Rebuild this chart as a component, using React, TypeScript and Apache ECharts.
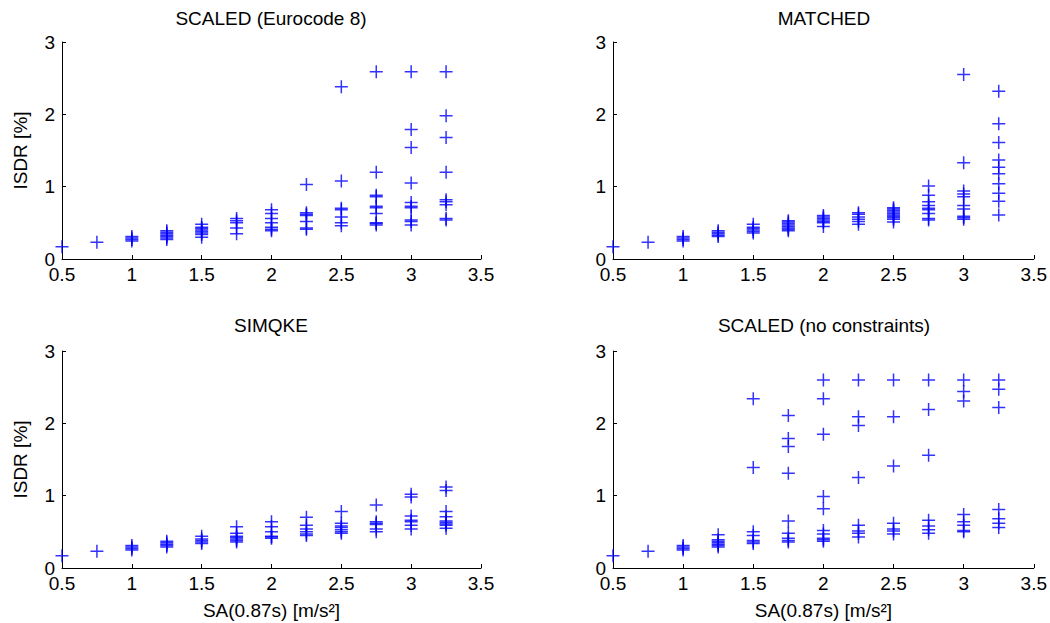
import React, { useEffect, useRef } from "react";
import * as echarts from "echarts";

const xs = [0.5, 0.75, 1, 1.25, 1.5, 1.75, 2, 2.25, 2.5, 2.75, 3, 3.25];

const scaledEC8: number[][] = [
  [0.17],
  [0.23],
  [0.25, 0.27, 0.29, 0.31],
  [0.27, 0.29, 0.31, 0.33, 0.35, 0.37, 0.39],
  [0.3, 0.34, 0.36, 0.38, 0.4, 0.42, 0.44, 0.48],
  [0.35, 0.43, 0.5, 0.53, 0.56],
  [0.39, 0.41, 0.44, 0.5, 0.56, 0.63, 0.68],
  [0.41, 0.43, 0.52, 0.6, 0.62, 0.64, 1.03],
  [0.46, 0.5, 0.58, 0.68, 0.7, 1.08, 2.38],
  [0.47, 0.49, 0.5, 0.63, 0.71, 0.73, 0.86, 0.88, 1.2, 2.59],
  [0.47, 0.52, 0.54, 0.71, 0.73, 0.78, 1.05, 1.54, 1.79, 2.59],
  [0.54, 0.56, 0.75, 0.79, 0.82, 1.2, 1.68, 1.98, 2.59],
];

const matched: number[][] = [
  [0.17],
  [0.23],
  [0.25, 0.27, 0.29, 0.31],
  [0.31, 0.33, 0.35, 0.37, 0.39],
  [0.36, 0.38, 0.4, 0.42, 0.44, 0.48],
  [0.39, 0.41, 0.43, 0.45, 0.47, 0.49, 0.51, 0.53],
  [0.45, 0.5, 0.52, 0.54, 0.56, 0.58, 0.6],
  [0.48, 0.52, 0.55, 0.58, 0.62, 0.64],
  [0.51, 0.55, 0.57, 0.59, 0.61, 0.63, 0.65, 0.67, 0.69, 0.71],
  [0.54, 0.56, 0.63, 0.68, 0.7, 0.74, 0.79, 0.88, 1.01],
  [0.55, 0.57, 0.59, 0.69, 0.74, 0.86, 0.9, 0.94, 1.33, 2.55],
  [0.61, 0.8, 0.91, 1.04, 1.18, 1.27, 1.37, 1.61, 1.87, 2.32],
];

const simqke: number[][] = [
  [0.17],
  [0.23],
  [0.25, 0.27, 0.29, 0.31],
  [0.29, 0.31, 0.33, 0.35, 0.37],
  [0.34, 0.36, 0.38, 0.4, 0.44],
  [0.36, 0.38, 0.4, 0.42, 0.44, 0.48, 0.57],
  [0.41, 0.43, 0.44, 0.5, 0.57, 0.64],
  [0.45, 0.47, 0.5, 0.54, 0.59, 0.7],
  [0.48, 0.5, 0.53, 0.56, 0.58, 0.62, 0.78],
  [0.5, 0.54, 0.6, 0.62, 0.64, 0.87],
  [0.54, 0.59, 0.64, 0.66, 0.72, 0.98, 1.02],
  [0.55, 0.59, 0.61, 0.63, 0.65, 0.71, 0.78, 1.07, 1.12],
];

const noConstraints: number[][] = [
  [0.17],
  [0.23],
  [0.25, 0.27, 0.29, 0.31],
  [0.29, 0.31, 0.33, 0.35, 0.37, 0.39, 0.46],
  [0.34, 0.36, 0.38, 0.45, 0.5, 1.39, 2.34],
  [0.36, 0.38, 0.41, 0.48, 0.65, 1.31, 1.68, 1.79, 2.11],
  [0.37, 0.39, 0.41, 0.47, 0.52, 0.82, 0.99, 1.85, 2.34, 2.6],
  [0.43, 0.48, 0.51, 0.59, 1.25, 1.97, 2.09, 2.6],
  [0.47, 0.51, 0.54, 0.62, 1.41, 2.09, 2.6],
  [0.48, 0.53, 0.58, 0.66, 1.56, 2.19, 2.6],
  [0.5, 0.52, 0.59, 0.64, 0.74, 2.31, 2.44, 2.6],
  [0.56, 0.62, 0.68, 0.81, 2.22, 2.47, 2.6],
];

const panelTitles = ["SCALED (Eurocode 8)", "MATCHED", "SIMQKE", "SCALED (no constraints)"];
const panelData = [scaledEC8, matched, simqke, noConstraints];
const xTicks = { min: 0.5, max: 3.5, interval: 0.5 };
const yTicks = { min: 0, max: 3, interval: 1 };
const xLabel = "SA(0.87s) [m/s²]";
const yLabel = "ISDR [%]";

const FONT = "'Liberation Sans', Arial, Helvetica, sans-serif";
const FS = 19;

export default function App() {
  const ref = useRef<HTMLDivElement>(null);
  useEffect(() => {
    if (!ref.current) return;
    const chart = echarts.init(ref.current, undefined, { renderer: "svg" });
    const grids = [
      { left: 62, top: 42, width: 419, height: 217 },
      { left: 613, top: 42, width: 422, height: 217 },
      { left: 62, top: 351, width: 419, height: 217 },
      { left: 613, top: 351, width: 422, height: 217 },
    ];
    const axisCommon = {
      axisLine: { show: true, onZero: false, lineStyle: { color: "#000", width: 1 } },
      axisTick: { show: true, inside: true, length: 4, lineStyle: { color: "#000" } },
      splitLine: { show: false },
      nameTextStyle: { color: "#000", fontFamily: FONT, fontSize: FS },
    };
    const xAxes = grids.map((_, i) => ({
      type: "value",
      gridIndex: i,
      ...xTicks,
      ...axisCommon,
      axisLabel: {
        color: "#000",
        fontFamily: FONT,
        fontSize: FS,
        margin: 6,
        formatter: (v: number) => String(v),
      },
      name: i >= 2 ? xLabel : "",
      nameLocation: "middle",
      nameGap: 33,
    }));
    const yAxes = grids.map((_, i) => ({
      type: "value",
      gridIndex: i,
      ...yTicks,
      ...axisCommon,
      axisLabel: { color: "#000", fontFamily: FONT, fontSize: FS, margin: 7 },
      name: i % 2 === 0 ? yLabel : "",
      nameLocation: "middle",
      nameGap: 32,
    }));
    const series = panelData.map((vals, i) => ({
      type: "scatter",
      xAxisIndex: i,
      yAxisIndex: i,
      symbol: "path://M0,7L14,7M7,0L7,14",
      symbolSize: 13,
      itemStyle: { color: "rgba(0,0,0,0)", borderColor: "#0000ff", borderWidth: 1.5 },
      emphasis: { disabled: true },
      data: xs.flatMap((x, j) => vals[j].map((v) => [x, v])),
    }));
    const titleCenters = [
      [271, 9],
      [824, 9],
      [271, 316],
      [824, 316],
    ];
    chart.setOption({
      animation: false,
      backgroundColor: "#fff",
      title: panelTitles.map((t, i) => ({
        text: t,
        left: titleCenters[i][0],
        top: titleCenters[i][1],
        textAlign: "center",
        padding: 0,
        textStyle: { color: "#000", fontFamily: FONT, fontSize: FS, fontWeight: "normal" },
      })),
      grid: grids,
      xAxis: xAxes,
      yAxis: yAxes,
      series,
    });
    return () => chart.dispose();
  }, []);
  return (
    <div
      ref={ref}
      style={{ position: "fixed", left: 0, top: 0, width: 1050, height: 623 }}
    />
  );
}
